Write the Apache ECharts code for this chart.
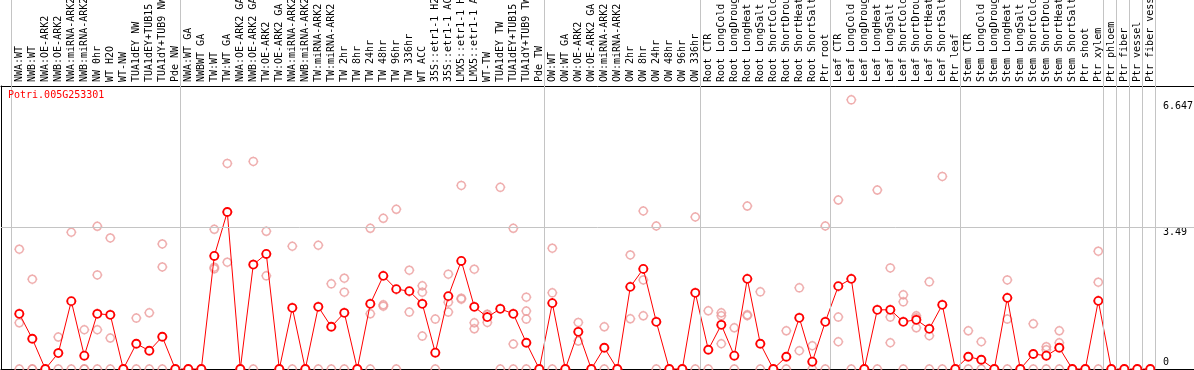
<!DOCTYPE html>
<html>
<head>
<meta charset="utf-8">
<script src="https://cdn.jsdelivr.net/npm/echarts@6/dist/echarts.min.js"></script>
<style>
html,body{margin:0;padding:0;background:#fff;overflow:hidden;}
#chart{width:1194px;height:370px;}
</style>
</head>
<body>
<div id="chart"></div>
<script>
const geneName = 'Potri.005G253301';

const categories = [
  'NWA:WT','NWB:WT','NWA:OE-ARK2','NWB:OE-ARK2','NWA:miRNA-ARK2','NWB:miRNA-ARK2','NW 0hr','WT H2O','WT-NW','TUA1dEY NW','TUA1dEY+TUB15 NW','TUA1dY+TUB9 NW','Pde NW',
  'NWA:WT GA','NWBWT GA','TW:WT','TW:WT GA','NWA:OE-ARK2 GA','NWB:OE-ARK2 GA','TW:OE-ARK2','TW:OE-ARK2 GA','NWA:miRNA-ARK2 GA','NWB:miRNA-ARK2 GA','TW:miRNA-ARK2','TW:miRNA-ARK2 GA','TW 2hr','TW 8hr','TW 24hr','TW 48hr','TW 96hr','TW 336hr','WT ACC','35S::etr1-1 H2O','35S::etr1-1 ACC','LMX5::etr1-1 H2O','LMX5::etr1-1 ACC','WT-TW','TUA1dEY TW','TUA1dEY+TUB15 TW','TUA1dY+TUB9 TW','Pde TW',
  'OW:WT','OW:WT GA','OW:OE-ARK2','OW:OE-ARK2 GA','OW:miRNA-ARK2','OW:miRNA-ARK2 GA','OW 2hr','OW 8hr','OW 24hr','OW 48hr','OW 96hr','OW 336hr',
  'Root CTR','Root LongCold','Root LongDrought','Root LongHeat','Root LongSalt','Root ShortCold','Root ShortDrought','Root ShortHeat','Root ShortSalt','Ptr root',
  'Leaf CTR','Leaf LongCold','Leaf LongDrought','Leaf LongHeat','Leaf LongSalt','Leaf ShortCold','Leaf ShortDrought','Leaf ShortHeat','Leaf ShortSalt','Ptr leaf',
  'Stem CTR','Stem LongCold','Stem LongDrought','Stem LongHeat','Stem LongSalt','Stem ShortCold','Stem ShortDrought','Stem ShortHeat','Stem ShortSalt','Ptr shoot','Ptr xylem',
  'Ptr phloem','Ptr fiber','Ptr vessel','Ptr fiber vessel'
];

// index of first category of each group (last entry = end)
const groupStarts = [0, 13, 41, 53, 63, 73, 84, 85, 86, 87, 88];

const meanValues = [
  1.363,0.747,0,0.394,1.676,0.328,1.363,1.338,0,0.624,0.451,0.796,0,
  0,0,2.793,3.877,0,2.579,2.842,0,1.511,0,1.536,1.043,1.388,0,1.61,2.3,1.972,1.923,1.61,0.402,1.799,2.669,1.536,1.282,1.486,1.363,0.648,0,
  1.627,0,0.919,0,0.525,0,2.029,2.472,1.166,0,0,1.881,
  0.476,1.092,0.328,2.226,0.624,0,0.303,1.264,0.18,1.166,
  2.046,2.226,0,1.462,1.462,1.166,1.215,0.993,1.585,0,
  0.303,0.229,0,1.757,0,0.37,0.328,0.525,0,0,1.683,
  0,0,0,0
];

const replicateValues = [
  [2.958,1.141,0],[2.218,0,0],[0],[0.789,0],[3.377,0],[0.969,0,0],[3.525,2.324,0.969,0],[3.236,0.764,0],[0],[1.257,0],[1.388,0],[3.088,2.521,0],[0],
  [0],[0],[3.451,2.514,2.474],[5.078,2.637],[0],[5.127,0],[3.401,2.3],[0],[3.032,0],[0],[3.056,0],[2.103,0],[2.243,1.898,0],[0],[3.475,1.363,0],[3.722,1.585,1.552],[3.944,0],[2.44,1.405],[2.053,1.898,0.813],[1.232,0],[2.342,1.651,1.405],[4.535,1.725,1.75],[2.465,1.141,0.993],[1.355,1.15,1.34],[4.486,0],[3.475,0.616,0],[1.775,1.43,1.232,0],[0],
  [2.983,1.881,0],[0],[1.15,0.69],[0],[1.043,0],[0],[2.817,1.24],[3.902,2.201,1.314],[3.532,0],[0],[0],[3.754,0],
  [1.437,0],[1.388,1.314,0.624],[1.018,0],[4.025,1.338,1.315],[1.905,0],[0],[0.944,0],[2.004,0.451],[0.574,0],[3.532,0],
  [4.173,1.282,0.673],[6.647,0],[0],[4.42,0],[2.497,1.282,0.648],[1.831,1.659,0],[1.314,1.264,1.018],[2.152,0.821,0],[4.757,0],[0],
  [0.944,0],[0.673,0],[0],[2.201,1.232,0],[0],[1.117,0],[0.55,0.476,0],[0.944,0.648,0],[0],[0],[2.909,2.144,0],
  [0],[0],[0],[0]
];

const yTickValues = [0, 3.49, 6.647];
const gridLineValues = [3.49];

// ---- layout ----
const W = 1194;
const step = 13;          // px per category
const firstX = 19.3;      // px of first category
const plotLeft = 1;
const baseY = 369;        // px of value 0
const plotTop = 86;
const pxPerUnit = 40.49;
const xMin = -(firstX - plotLeft) / step;
const xMax = xMin + (W - plotLeft) / step;
const yMaxFull = baseY / pxPerUnit;
const catLeft = firstX - step / 2;
const catRight = W - catLeft - categories.length * step;
const FONT = 'DejaVu Sans Mono';

// circle with four tiny ticks, as in the source plot
const markerPath = 'path://M9 5A4 4 0 1 1 1 5A4 4 0 1 1 9 5Z' +
  'M5 0L5 1M5 9L5 10M0 5L1 5M9 5L10 5';

const repData = [];
replicateValues.forEach((arr, i) => arr.forEach(v => repData.push([i, v])));
const meanData = meanValues.map((v, i) => [i, v]);

const hidden = {axisLine:{show:false}, axisTick:{show:false}, axisLabel:{show:false}, splitLine:{show:false}};

const chart = echarts.init(document.getElementById('chart'), null, {renderer:'canvas'});
chart.setOption({
  animation: false,
  backgroundColor: '#fff',
  title: {
    text: geneName, left: 8, top: 90, padding: 0, z: 10,
    textStyle: {color:'#ff0000', fontSize:10, fontWeight:'normal', fontFamily: FONT}
  },
  grid: [
    {left: plotLeft, right: 0, top: 0, bottom: 370 - baseY, outerBoundsMode:'none', containLabel:false},
    {left: plotLeft, right: 0, top: plotTop, bottom: 370 - baseY, outerBoundsMode:'none', containLabel:false},
    {left: catLeft, right: catRight, top: plotTop, bottom: 370 - baseY, outerBoundsMode:'none', containLabel:false}
  ],
  xAxis: [
    {gridIndex:0, type:'value', min:xMin, max:xMax, position:'bottom',
     axisLine:{show:true, onZero:false, lineStyle:{color:'#000', width:1}},
     axisTick:{show:false}, axisLabel:{show:false}, splitLine:{show:false}},
    {gridIndex:1, type:'value', min:0, max:1, position:'top',
     axisLine:{show:true, onZero:false, lineStyle:{color:'#000', width:1}},
     axisTick:{show:false}, axisLabel:{show:false}, splitLine:{show:false}},
    {gridIndex:2, type:'category', data:categories, position:'top', boundaryGap:true,
     axisLine:{show:false}, axisTick:{show:false}, splitLine:{show:false},
     axisLabel:{interval:0, rotate:90, margin:4, fontFamily:FONT, fontSize:10, color:'#000'}}
  ],
  yAxis: [
    {gridIndex:0, type:'value', min:0, max:yMaxFull, position:'right',
     axisLine:{show:false}, axisTick:{show:false}, splitLine:{show:false},
     axisLabel:{
       inside:true, customValues: yTickValues, margin:31, align:'left', verticalAlign:'middle',
       fontFamily:FONT, fontSize:10, color:'#000',
       formatter: function(v){
         const i = yTickValues.indexOf(v);
         const key = i === 0 ? 'a' : (i === yTickValues.length - 1 ? 'c' : 'b');
         return '{' + key + '|' + String(v) + '}';
       },
       rich: {
         a: {fontFamily:FONT, fontSize:10, color:'#000', padding:[0,0,14,0]},
         b: {fontFamily:FONT, fontSize:10, color:'#000', padding:[9,0,0,0]},
         c: {fontFamily:FONT, fontSize:10, color:'#000', padding:[14,0,0,0]}
       }
     }},
    Object.assign({gridIndex:1, type:'value', min:0, max:1, position:'left'}, hidden,
      {axisLine:{show:true, onZero:false, lineStyle:{color:'#000', width:1}}}),
    Object.assign({gridIndex:2, type:'value', min:0, max:1}, hidden)
  ],
  series: [
    {
      type:'scatter', xAxisIndex:0, yAxisIndex:0, data: repData,
      symbol: markerPath, symbolSize:10, symbolKeepAspect:true, clip:false, z:2, silent:true,
      itemStyle:{color:'rgba(0,0,0,0)', borderColor:'#eb9a9a', borderWidth:1.5},
      markLine: {
        silent:true, symbol:['none','none'], label:{show:false},
        lineStyle:{color:'#c4c4c4', width:1, type:'solid'},
        data: groupStarts.map(s => ({xAxis: s - 8 / step}))
          .concat(gridLineValues.map(v => ({yAxis: v})))
      }
    },
    {
      type:'line', xAxisIndex:0, yAxisIndex:0, data: meanData,
      symbol: markerPath, symbolSize:10, symbolKeepAspect:true, showAllSymbol:true, clip:false, z:3, silent:true,
      lineStyle:{color:'#ff0000', width:1},
      itemStyle:{color:'#ffffff', borderColor:'#ff0000', borderWidth:1.8}
    }
  ]
});
</script>
</body>
</html>
